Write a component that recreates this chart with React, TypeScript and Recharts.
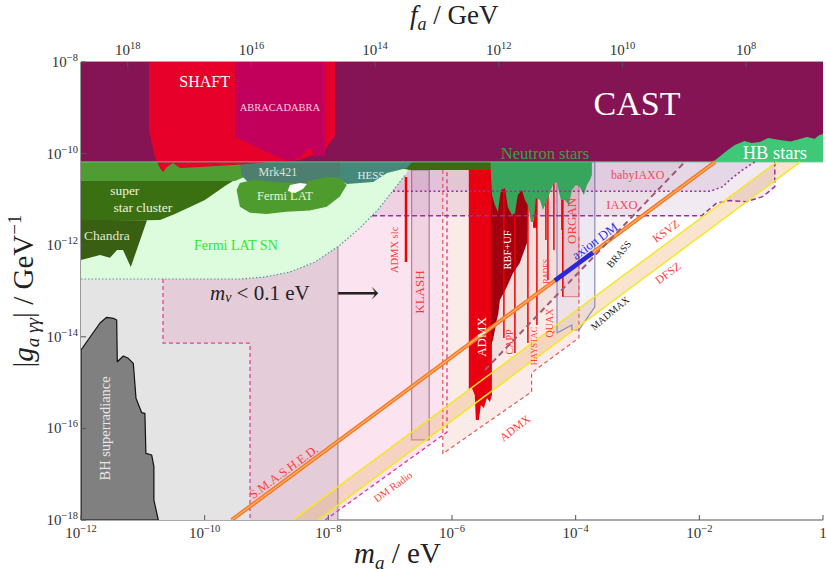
import React from "react";
import { ComposedChart, Scatter, XAxis, YAxis } from "recharts";

type Pt = [number, number]; // [m_a in eV, |g| in GeV^-1]

const FONT = '"Liberation Serif", "DejaVu Serif", serif';
const AXIS = "#555";

// ---------- axes ----------
const massTicks = [1e-12, 1e-10, 1e-8, 1e-6, 1e-4, 1e-2, 1];
const couplingTicks = [1e-18, 1e-16, 1e-14, 1e-12, 1e-10, 1e-8];
const faTicks = [1e8, 1e10, 1e12, 1e14, 1e16, 1e18];
const massDomain = [1e-12, 1];
const couplingDomain = [1e-18, 1e-8];
const faDomain = [5.7e6, 5.7e18];
// f_a corners (GeV) matching the mass axis ends, so the top axis gets a domain
const faCorners = [
  { fa: 5.7e18, g: 1e-18 },
  { fa: 5.7e6, g: 1e-8 },
];

const castFloor = 6.6e-11;

// ---------- regions ----------
const castRegion: Pt[] = [[1e-12, 6.6e-11], [1, 6.6e-11], [1, 1e-8], [1e-12, 1e-8]];
const hbStars: Pt[] = [
  [1.65e-2, 6.6e-11], [2.89e-2, 1.2e-10], [3.75e-2, 1.54e-10], [5.4e-2, 1.88e-10], [7e-2, 1.7e-10],
  [9.5e-2, 1.79e-10], [0.13, 2.2e-10], [0.2, 1.98e-10], [0.3, 1.85e-10], [0.42, 2.08e-10],
  [0.55, 2.3e-10], [0.74, 2.1e-10], [0.85, 2.5e-10], [1, 2.68e-10], [1, 6.6e-11],
];
const shaft: Pt[] = [
  [1.26e-11, 1e-8], [1.28e-8, 1e-8], [1.28e-8, 2.42e-10], [8.8e-9, 1.2e-10], [3.5e-9, 7.2e-11],
  [1.14e-9, 6.55e-11], [2.87e-10, 5.6e-11], [8.4e-11, 5.1e-11], [4.0e-11, 4.85e-11], [3.08e-11, 6.2e-11],
  [2.46e-11, 5.1e-11], [2.12e-11, 3.96e-11], [1.89e-11, 4.85e-11], [1.57e-11, 8.4e-11], [1.26e-11, 3.27e-10],
];
const abracadabra: Pt[] = [
  [3.09e-10, 1e-8], [8.8e-9, 1e-8], [8.8e-9, 8.4e-11], [7.3e-9, 9.3e-11], [6.1e-9, 8.4e-11],
  [5.0e-9, 1.39e-10], [4.2e-9, 1.05e-10], [3.5e-9, 8.4e-11], [2.4e-9, 6.55e-11], [1.48e-9, 8.4e-11],
  [3.09e-10, 2.3e-10],
];
const grayBackdrop: Pt[] = [[1e-12, 1e-18], [1.43e-8, 1e-18], [1.43e-8, 6.6e-11], [1e-12, 6.6e-11]];
const neutrinoMass: Pt[] = [
  [2.12e-11, 1.83e-13], [2.12e-11, 7.3e-15], [5.4e-10, 7.3e-15], [5.4e-10, 1e-18],
  [1.43e-8, 1e-18], [1.43e-8, 6.6e-11], [2.12e-11, 6.6e-11],
];
const neutrinoEdge: Pt[] = [[2.12e-11, 1.83e-13], [2.12e-11, 7.3e-15], [5.4e-10, 7.3e-15], [5.4e-10, 1e-18]];
const neutrinoRight: Pt[] = [[1.43e-8, 1e-18], [1.43e-8, 9.5e-13]];
const dmRadio: Pt[] = [[8.9e-9, 1e-18], [8.3e-7, 8.3e-17], [8.3e-7, 6.6e-11], [8.9e-9, 6.6e-11]];
const dmRadioEdge: Pt[] = [[8.9e-9, 1e-18], [8.3e-7, 8.3e-17], [8.3e-7, 4.4e-11]];
const admxProjected: Pt[] = [
  [7.1e-7, 2.8e-17], [1.94e-5, 6.3e-16], [1.94e-5, 1.64e-15], [1.13e-4, 9.5e-15],
  [1.13e-4, 6.6e-11], [7.1e-7, 6.6e-11],
];
const admxProjectedEdge: Pt[] = [
  [7.1e-7, 4.4e-11], [7.1e-7, 2.8e-17], [1.94e-5, 6.3e-16], [1.94e-5, 1.64e-15],
  [1.13e-4, 9.5e-15], [1.13e-4, 1.5e-12],
];
const klash: Pt[] = [[2.22e-7, 5.6e-17], [4.28e-7, 5.6e-17], [4.28e-7, 4.4e-11], [2.22e-7, 4.4e-11]];
const bhSuperradiance: Pt[] = [
  [1e-12, 1e-18], [1e-12, 5.15e-15], [2.03e-12, 2.0e-14], [2.6e-12, 2.67e-14], [3.33e-12, 2.54e-14],
  [3.78e-12, 2.33e-14], [3.86e-12, 2.86e-15], [4.83e-12, 3.81e-15], [5.82e-12, 3.4e-15],
  [7.0e-12, 2.64e-15], [7.75e-12, 4.54e-16], [9.6e-12, 2.2e-16], [1.08e-11, 2.14e-16],
  [1.12e-11, 2.86e-17], [1.39e-11, 2.62e-17], [1.51e-11, 1.46e-17], [1.51e-11, 2.7e-18],
  [1.78e-11, 1e-18],
];
const ksvzBand: Pt[] = [[2.68e-9, 1e-18], [0.179, 6.6e-11], [0.43, 6.6e-11], [6.8e-9, 1e-18]];
const ksvzLine: Pt[] = [[2.68e-9, 1e-18], [0.179, 6.6e-11]];
const dfszLine: Pt[] = [[6.8e-9, 1e-18], [0.43, 6.6e-11]];
const axionLine: Pt[] = [[2.73e-10, 1e-18], [1.8e-2, 6.6e-11]];
const axionDM: Pt[] = [[4.6e-5, 1.69e-13], [1.9e-4, 6.9e-13]];
const brassLine: Pt[] = [[3.4e-6, 1.88e-15], [5.83e-3, 6.6e-11]];
const brassRegion: Pt[] = [[3.4e-6, 1.88e-15], [5.83e-3, 6.6e-11], [3.4e-6, 6.6e-11]];
const madmax: Pt[] = [
  [4.99e-5, 1.21e-14], [8.7e-5, 1.81e-14], [8.7e-5, 1.41e-14], [1.13e-4, 1.41e-14],
  [2.04e-4, 4.5e-14], [2.04e-4, 6.6e-11], [4.99e-5, 6.6e-11],
];
const organ: Pt[] = [[6.2e-5, 4.4e-11], [1.13e-4, 4.4e-11], [1.13e-4, 7.5e-14], [6.2e-5, 7.5e-14]];
const iaxo: Pt[] = [
  [5.1e-8, 4.4e-12], [1.09e-2, 4.4e-12], [1.9e-2, 8.3e-12], [3.1e-2, 9.4e-12], [5.8e-2, 8.9e-12],
  [0.106, 1.15e-11], [0.166, 1.89e-11], [0.166, 6.6e-11],
];
const babyIaxo: Pt[] = [
  [1.11e-7, 1.5e-11], [1.48e-2, 1.5e-11], [2.4e-2, 1.89e-11], [3.1e-2, 2.65e-11],
  [5.0e-2, 4.4e-11], [7.9e-2, 6.6e-11],
];
const admx: Pt[] = [
  [1.87e-6, 4.4e-11], [4.42e-6, 4.4e-11], [4.42e-6, 5.4e-16], [4.1e-6, 3.77e-16], [3.67e-6, 4.6e-16],
  [3.28e-6, 2.79e-16], [2.93e-6, 3.25e-16], [2.72e-6, 1.52e-16], [2.43e-6, 1.52e-16],
  [2.34e-6, 5.4e-16], [2.1e-6, 7.6e-16], [1.87e-6, 6.9e-16],
];
const rbfUf: Pt[] = [
  [4.26e-6, 4.4e-11], [1.69e-5, 4.4e-11], [1.69e-5, 6.8e-12], [1.63e-5, 1.12e-12], [1.25e-5, 4.1e-13],
  [9.7e-6, 2.47e-13], [7.7e-6, 1.22e-13], [5.95e-6, 6.4e-14], [5.6e-6, 3.2e-14], [5.3e-6, 2.33e-14],
  [4.6e-6, 8.5e-15], [4.26e-6, 6.6e-15],
];
// haloscope runs: [mass, lowest coupling reached]
const haloscopeLines: Pt[] = [
  [6.9e-6, 9.4e-15], [1.04e-5, 4.4e-15], [1.69e-5, 7.3e-15], [2.36e-5, 1.81e-14], [3.3e-5, 1.3e-12],
  [3.56e-5, 1.74e-13], [4.44e-5, 7.9e-13], [5.98e-5, 2.15e-12], [6.2e-5, 7.5e-14],
];
const haloscopeSpike: Pt = [2.2e-5, 2.4e-12];
const admxSidecar: Pt[] = [[1.8e-7, 3.08e-11], [1.8e-7, 4.3e-13]];
const neutronStars: Pt[] = [
  [4.26e-6, 6.6e-11], [4.26e-6, 3.41e-11], [4.42e-6, 1.25e-11], [4.94e-6, 7.55e-12], [5.52e-6, 5.3e-12],
  [6.18e-6, 1.6e-11], [7.17e-6, 1.77e-11], [8.0e-6, 6.8e-12], [9.3e-6, 4.56e-12], [1.04e-5, 5.05e-12],
  [1.16e-5, 1.25e-11], [1.35e-5, 1.6e-11], [1.51e-5, 9.7e-12], [1.69e-5, 7.55e-12], [1.89e-5, 3.2e-12],
  [2.11e-5, 3.2e-12], [2.27e-5, 1.07e-11], [2.64e-5, 9.7e-12], [2.95e-5, 5.9e-12], [3.3e-5, 8.3e-12],
  [3.69e-5, 1.25e-11], [4.28e-5, 2.06e-11], [4.96e-5, 2.4e-11], [5.76e-5, 9.7e-12], [6.68e-5, 9.7e-12],
  [7.76e-5, 7.55e-12], [8.7e-5, 1.6e-11], [1.01e-4, 2.06e-11], [1.17e-4, 1.87e-11], [1.36e-4, 1.25e-11],
  [1.52e-4, 2.06e-11], [1.7e-4, 2.65e-11], [1.83e-4, 3.41e-11], [1.83e-4, 6.6e-11],
];
const fermiSnEdge: Pt[] = [
  [1e-12, 1.83e-13], [3.7e-10, 1.83e-13], [9.4e-10, 2.02e-13], [2.4e-9, 2.6e-13], [6.1e-9, 4.3e-13],
  [1.54e-8, 1.0e-12], [3.24e-8, 2.38e-12], [6.3e-8, 5.9e-12], [1.07e-7, 1.45e-11], [1.8e-7, 3.6e-11],
  [2.25e-7, 6.6e-11],
];
const fermiSn: Pt[] = [...fermiSnEdge, [1e-12, 6.6e-11]];
const sn1987Band: Pt[] = [
  [1e-12, 6.6e-11], [4.2e-10, 6.6e-11], [4.2e-10, 3.0e-11], [3.1e-10, 2.52e-11], [1e-12, 2.52e-11],
];
const superStarCluster: Pt[] = [
  [1e-12, 2.52e-11], [2.87e-10, 2.52e-11], [2.13e-10, 1.96e-11], [1.47e-10, 1.38e-11], [1.01e-10, 9.7e-12],
  [5.8e-11, 6.8e-12], [3.3e-11, 4.8e-12], [1.9e-11, 3.55e-12], [1e-12, 3.3e-12],
];
const chandra: Pt[] = [
  [1e-12, 3.5e-12], [1.17e-11, 3.5e-12], [6.4e-12, 3.34e-13], [4.77e-12, 7.85e-13], [3.82e-12, 7.85e-13],
  [2.94e-12, 5.3e-13], [2.03e-12, 6.1e-13], [1e-12, 4.75e-13],
];
const mrk421: Pt[] = [
  [3.72e-10, 6.6e-11], [1.85e-8, 6.6e-11], [1.85e-8, 2.93e-11], [7.3e-9, 2.4e-11], [3.5e-9, 1.96e-11],
  [1.14e-9, 1.96e-11], [5.4e-10, 2.17e-11], [4.0e-10, 3.25e-11],
];
const darkStrip: Pt[] = [[4.7e-8, 6.6e-11], [4.26e-6, 6.6e-11], [4.26e-6, 4.4e-11], [2.08e-7, 4.4e-11], [1.19e-7, 5.1e-11]];
const hess: Pt[] = [
  [1.54e-8, 6.6e-11], [2.25e-7, 6.6e-11], [1.87e-7, 4.85e-11], [8.9e-8, 3.77e-11], [5.3e-8, 2.4e-11],
  [2.0e-8, 2.17e-11], [1.54e-8, 2.65e-11],
];
const fermiLat: Pt[] = [
  [3.29e-10, 1.6e-11], [3.72e-10, 6.9e-12], [5.4e-10, 5.1e-12], [1.0e-9, 4.8e-12], [2.1e-9, 5.4e-12],
  [5.0e-9, 5.7e-12], [9.4e-9, 6.9e-12], [1.54e-8, 1.15e-11], [1.98e-8, 2.06e-11], [1.54e-8, 2.93e-11],
  [9.4e-9, 3.08e-11], [5.6e-9, 2.65e-11], [3.9e-9, 2.28e-11], [2.1e-9, 2.28e-11], [1.27e-9, 2.43e-11],
  [6.0e-10, 2.65e-11], [3.72e-10, 2.28e-11],
];
const fermiLatHole: Pt[] = [
  [2.4e-9, 2.06e-11], [3.5e-9, 2.28e-11], [4.5e-9, 2.17e-11], [3.9e-9, 1.69e-11], [2.9e-9, 1.38e-11], [2.2e-9, 1.52e-11],
];
const castEdge: Pt[] = [[1e-12, 6.6e-11], [1, 6.6e-11]];

// ---------- annotation text ----------
const labels = [
  { text: "CAST", m: 9.8e-4, g: 1.27e-9, color: "#fff", size: 34 },
  { text: "SHAFT", m: 1.0e-10, g: 3.66e-9, color: "#fff", size: 16 },
  { text: "ABRACADABRA", m: 1.65e-9, g: 1.04e-9, color: "#f6cfe0", size: 10.5 },
  { text: "HB stars", m: 0.166, g: 1.03e-10, color: "#fff", size: 18.5 },
  { text: "Neutron stars", m: 3.2e-5, g: 1.03e-10, color: "#33a43a", size: 16.5 },
  { text: "Mrk421", m: 1.53e-9, g: 3.96e-11, color: "#d8e4dc", size: 12 },
  { text: "HESS", m: 4.9e-8, g: 3.4e-11, color: "#e2ecea", size: 11 },
  { text: "Fermi LAT", m: 1.99e-9, g: 1.19e-11, color: "#e6f4dc", size: 12.5 },
  { text: "super", m: 5.1e-12, g: 1.6e-11, color: "#eef2e0", size: 13.5 },
  { text: "star cluster", m: 1.0e-11, g: 6.5e-12, color: "#eef2e0", size: 13.5 },
  { text: "Chandra", m: 2.63e-12, g: 1.59e-12, color: "#e0e4d4", size: 13.5 },
  { text: "Fermi LAT SN", m: 3.2e-10, g: 1.0e-12, color: "#2ee82e", size: 14 },
  { text: "\u27f6", m: 3.0e-8, g: 9.5e-14, color: "#222", size: 30 },
  { text: "BH superradiance", m: 2.44e-12, g: 1.0e-16, color: "#e8e8e8", size: 14.5, angle: -90 },
  { text: "S.M.A.S.H.E.D.", m: 1.91e-9, g: 1.12e-17, color: "#ff3b3b", size: 12.5, angle: -36 },
  { text: "DM Radio", m: 1.11e-7, g: 5.3e-18, color: "#ff3b3b", size: 10.5, angle: -36 },
  { text: "ADMX slc", m: 1.19e-7, g: 7.9e-13, color: "#ff3b3b", size: 10.5, angle: -90 },
  { text: "KLASH", m: 3.0e-7, g: 9.5e-14, color: "#ff3b3b", size: 13, angle: -90 },
  { text: "ADMX", m: 3.04e-6, g: 9.9e-15, color: "#fff", size: 13, angle: -90 },
  { text: "RBF+UF", m: 8.0e-6, g: 7.9e-13, color: "#fff", size: 10.5, angle: -90 },
  { text: "CAPP", m: 8.6e-6, g: 7.7e-15, color: "#ff3b3b", size: 10, angle: -90 },
  { text: "HAYSTAC", m: 2.1e-5, g: 6.3e-15, color: "#ff3b3b", size: 8.5, angle: -90 },
  { text: "QUAX", m: 3.8e-5, g: 2.0e-14, color: "#ff3b3b", size: 10, angle: -90 },
  { text: "RADES", m: 3.4e-5, g: 2.7e-13, color: "#ff3b3b", size: 7.5, angle: -90 },
  { text: "ORGAN", m: 8.7e-5, g: 3.4e-12, color: "#ff3b3b", size: 13, angle: -90 },
  { text: "axion DM", m: 2.04e-4, g: 1.24e-12, color: "#3232e6", size: 13, angle: -36 },
  { text: "BRASS", m: 5.0e-4, g: 6.4e-13, color: "#222", size: 10, angle: -50 },
  { text: "MADMAX", m: 3.57e-4, g: 3.3e-14, color: "#222", size: 10, angle: -40 },
  { text: "KSVZ", m: 2.87e-3, g: 2.04e-12, color: "#ff3b3b", size: 11.5, angle: -36 },
  { text: "DFSZ", m: 3.1e-3, g: 2.47e-13, color: "#ff3b3b", size: 11.5, angle: -36 },
  { text: "babyIAXO", m: 1.01e-3, g: 3.4e-11, color: "#f04a62", size: 12 },
  { text: "IAXO", m: 5.6e-4, g: 7.5e-12, color: "#f04a62", size: 12.5 },
  { text: "ADMX", m: 1.04e-5, g: 1.02e-16, color: "#ff3b3b", size: 11.5, angle: -38 },
  { text: "mnu", m: 7.8e-10, g: 9.0e-14, color: "#222", size: 21 },
];

// ---------- drawing helpers ----------
type Look = { fill?: string; stroke?: string; width?: number; dash?: string; closed?: boolean };

const toPath = (pts: { x: number; y: number }[], closed?: boolean) =>
  pts.map((p, i) => `${i ? "L" : "M"}${p.x.toFixed(1)},${p.y.toFixed(1)}`).join(" ") + (closed ? " Z" : "");

const noDot = () => <g />;

function layer(key: string, pts: Pt[], look: Look) {
  const rows = pts.map(([m, g]) => ({ m, g }));
  return (
    <Scatter
      key={key}
      data={rows}
      xAxisId="m"
      yAxisId="g"
      isAnimationActive={false}
      shape={noDot}
      lineType="joint"
      line={(p: any) => (
        <path
          d={toPath(p.points || [], look.closed ?? !!look.fill)}
          fill={look.fill ?? "none"}
          stroke={look.stroke ?? "none"}
          strokeWidth={look.width ?? 1}
          strokeDasharray={look.dash}
          strokeLinejoin="round"
        />
      )}
    />
  );
}

const sup = (e: number) => (e < 0 ? "\u2212" + Math.abs(e) : String(e));

function BottomTick({ x, y, payload }: any) {
  const e = Math.round(Math.log10(payload.value));
  return (
    <g>
      <line x1={x} x2={x} y1={y} y2={y - 5} stroke={AXIS} />
      <text x={x} y={y + 18} textAnchor="middle" fontSize={15} fill="#333" fontFamily={FONT}>
        {e === 0 ? "1" : <>10<tspan dy={-6} fontSize={10.5}>{sup(e)}</tspan></>}
      </text>
    </g>
  );
}

function TopTick({ x, y, payload }: any) {
  const e = Math.round(Math.log10(payload.value));
  return (
    <g>
      <line x1={x} x2={x} y1={y} y2={y + 5} stroke={AXIS} />
      <text x={x} y={y - 7} textAnchor="middle" fontSize={15} fill="#333" fontFamily={FONT}>
        10<tspan dy={-6} fontSize={10.5}>{sup(e)}</tspan>
      </text>
    </g>
  );
}

function LeftTick({ x, y, payload }: any) {
  const e = Math.round(Math.log10(payload.value));
  return (
    <g>
      <line x1={x} x2={x + 5} y1={y} y2={y} stroke={AXIS} />
      <text x={x - 3} y={y + 5} textAnchor="end" fontSize={15} fill="#333" fontFamily={FONT}>
        10<tspan dy={-6} fontSize={10.5}>{sup(e)}</tspan>
      </text>
    </g>
  );
}

function LabelShape({ cx, cy, payload }: any) {
  if (cx == null || cy == null) return <g />;
  const rot = payload.angle ? `rotate(${payload.angle} ${cx} ${cy})` : undefined;
  if (payload.text === "mnu") {
    return (
      <text x={cx} y={cy} textAnchor="middle" dominantBaseline="central" fontSize={payload.size} fill={payload.color} fontFamily={FONT}>
        <tspan fontStyle="italic">m</tspan>
        <tspan fontStyle="italic" fontSize={14} dy={4}>{"\u03bd"}</tspan>
        <tspan dy={-4}>{" < 0.1 eV"}</tspan>
      </text>
    );
  }
  const family = payload.text === "\u27f6" ? '"DejaVu Serif", serif' : FONT;
  return (
    <text x={cx} y={cy} transform={rot} textAnchor="middle" dominantBaseline="central" fontSize={payload.size} fill={payload.color} fontFamily={family}>
      {payload.text}
    </text>
  );
}

function MassTitle() {
  return (
    <text x={354} y={563} fontSize={29} fill="#222" fontFamily={FONT}>
      <tspan fontStyle="italic">m</tspan>
      <tspan fontStyle="italic" fontSize={19} dy={6}>a</tspan>
      <tspan dy={-6}>{" / eV"}</tspan>
    </text>
  );
}

function FaTitle() {
  return (
    <text x={410} y={24} fontSize={27} fill="#222" fontFamily={FONT}>
      <tspan fontStyle="italic">f</tspan>
      <tspan fontStyle="italic" fontSize={18} dy={6}>a</tspan>
      <tspan dy={-6}>{" / GeV"}</tspan>
    </text>
  );
}

function CouplingTitle() {
  return (
    <text transform="translate(33,291) rotate(-90)" textAnchor="middle" fontSize={29} fill="#222" fontFamily={FONT}>
      |<tspan fontStyle="italic">g</tspan>
      <tspan fontStyle="italic" fontSize={19} dy={6}>{"a \u03b3\u03b3"}</tspan>
      <tspan dy={-6}>{"| / GeV"}</tspan>
      <tspan fontSize={19} dy={-12}>{"\u22121"}</tspan>
    </text>
  );
}

export default function App() {
  const axisLine = { stroke: AXIS, strokeWidth: 1.2 };
  return (
    <div style={{ position: "absolute", left: 0, top: 0, width: 826, height: 573, background: "#fff" }}>
      <ComposedChart width={826} height={573} margin={{ top: 32, right: 3, bottom: 20, left: 21 }}>
        <XAxis
          xAxisId="m" dataKey="m" type="number" scale="log" domain={massDomain} allowDataOverflow
          ticks={massTicks} interval={0} tick={BottomTick} tickLine={false} tickSize={0} tickMargin={0}
          height={33} axisLine={axisLine} label={<MassTitle />}
        />
        <XAxis
          xAxisId="fa" dataKey="fa" orientation="top" type="number" scale="log" domain={faDomain} reversed allowDataOverflow
          ticks={faTicks} interval={0} tick={TopTick} tickLine={false} tickSize={0} tickMargin={0}
          height={30} axisLine={axisLine} label={<FaTitle />}
        />
        <YAxis
          yAxisId="g" dataKey="g" type="number" scale="log" domain={couplingDomain} allowDataOverflow
          ticks={couplingTicks} interval={0} tick={LeftTick} tickLine={false} tickSize={0} tickMargin={0}
          width={60} axisLine={axisLine} label={<CouplingTitle />}
        />
        <YAxis
          yAxisId="r" orientation="right" type="number" scale="log" domain={couplingDomain} allowDataOverflow
          tick={false} tickLine={false} width={0} axisLine={axisLine}
        />

        <Scatter key="fa-corners" data={faCorners} xAxisId="fa" yAxisId="g" isAnimationActive={false} shape={noDot} />

        {layer("gray", grayBackdrop, { fill: "#e4e4e4" })}
        {layer("dmradio", dmRadio, { fill: "#fbe4f0" })}
        {layer("mnu", neutrinoMass, { fill: "#e4cdd8" })}
        {layer("admxproj", admxProjected, { fill: "#fbebe8" })}
        {layer("bh", bhSuperradiance, { fill: "#808080", stroke: "#111", width: 1.2 })}
        {layer("klash", klash, { fill: "rgba(170,90,120,0.13)", stroke: "#b3879a", width: 1.3 })}
        {layer("ksvzband", ksvzBand, { fill: "rgba(235,170,90,0.3)" })}
        {layer("brassregion", brassRegion, { fill: "rgba(160,70,110,0.07)" })}
        {layer("madmax", madmax, { fill: "rgba(200,200,230,0.25)", stroke: "#8a8ab6", width: 1.2 })}
        {layer("organ", organ, { fill: "rgba(220,80,110,0.12)", stroke: "#cc6078", width: 0.8 })}
        {layer("iaxofill", [...iaxo, [5.1e-8, 6.6e-11]], { fill: "rgba(140,60,140,0.11)" })}
        {layer("babyfill", [...babyIaxo, [1.11e-7, 6.6e-11]], { fill: "rgba(140,60,140,0.11)" })}
        {layer("admx", admx, { fill: "#e80010" })}
        {layer("rbf", rbfUf, { fill: "#a3000f" })}
        {haloscopeLines.map(([m, g], i) =>
          layer(`halo${i}`, [[m, castFloor], [m, g]], { stroke: "#f00000", width: 1.5 })
        )}
        {layer("spike", [[haloscopeSpike[0], castFloor], haloscopeSpike], { stroke: "#ee0000", width: 4 })}
        {layer("ns", neutronStars, { fill: "#38a55c" })}
        {layer("fermisn", fermiSn, { fill: "#ddfbdd" })}
        {layer("sn1987", sn1987Band, { fill: "#4f9d32" })}
        {layer("ssc", superStarCluster, { fill: "#3a7011" })}
        {layer("chandra", chandra, { fill: "#395f12" })}
        {layer("mrk", mrk421, { fill: "#4c7f70" })}
        {layer("strip", darkStrip, { fill: "#3c6a10" })}
        {layer("hess", hess, { fill: "#45897a" })}
        {layer("fermilat", fermiLat, { fill: "#4e9c2e" })}
        {layer("hole", fermiLatHole, { fill: "#ffffff" })}
        {layer("cast", castRegion, { fill: "#851454" })}
        {layer("hb", hbStars, { fill: "#3ec878" })}
        {layer("shaft", shaft, { fill: "#e6002a" })}
        {layer("abra", abracadabra, { fill: "#c2005c" })}
        {layer("castedge", castEdge, { stroke: "#5ec890", width: 1 })}

        {layer("fermisnedge", fermiSnEdge.slice(0, -1), { stroke: "#4f9a9a", width: 1.2, dash: "1.5 2" })}
        {layer("mnuedge", neutrinoEdge, { stroke: "#e0409a", width: 1.3, dash: "4 3" })}
        {layer("mnuright", neutrinoRight, { stroke: "#a08898", width: 1.2 })}
        {layer("dmradioedge", dmRadioEdge, { stroke: "#e030a0", width: 1.3, dash: "4 3" })}
        {layer("admxprojedge", admxProjectedEdge, { stroke: "#e05a5a", width: 1.2, dash: "4 3" })}
        {layer("iaxo", iaxo, { stroke: "#9b309b", width: 1.5, dash: "5 3" })}
        {layer("baby", babyIaxo, { stroke: "#9b309b", width: 1.5, dash: "2 2.5" })}
        {layer("ksvz", ksvzLine, { stroke: "#f5e625", width: 1.5 })}
        {layer("dfsz", dfszLine, { stroke: "#f5e625", width: 1.5 })}
        {layer("axion", axionLine, { stroke: "#f47a22", width: 4 })}
        {layer("axioncore", axionLine, { stroke: "#f9b070", width: 1.2 })}
        {layer("axiondm", axionDM, { stroke: "#2828d8", width: 4.5 })}
        {layer("brass", brassLine, { stroke: "#a05a70", width: 2, dash: "6 4" })}
        {layer("sidecar", admxSidecar, { stroke: "#f00000", width: 2.5 })}

        <Scatter key="labels" data={labels} xAxisId="m" yAxisId="g" isAnimationActive={false} shape={LabelShape} />
      </ComposedChart>
    </div>
  );
}
